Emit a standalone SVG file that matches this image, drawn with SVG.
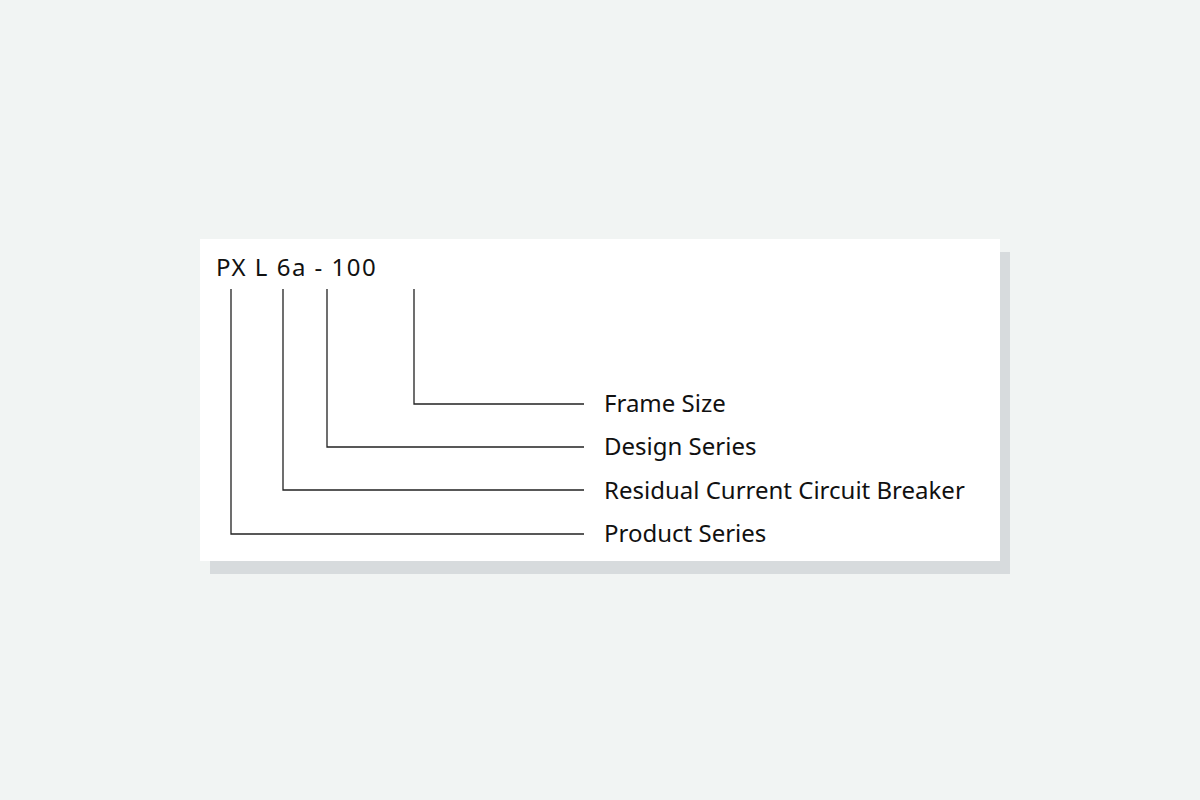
<svg xmlns="http://www.w3.org/2000/svg" width="1200" height="800" viewBox="0 0 1200 800">
<style>
text{font-family:"Noto Sans","Open Sans",sans-serif;fill:#111;font-size:24px}
.c{fill:none;stroke:#222;stroke-width:1.3}
</style>
<rect width="1200" height="800" fill="#f1f4f3"/>
<rect x="210" y="252" width="800" height="322" fill="#d7dbdd"/>
<rect x="200" y="239" width="800" height="322" fill="#fff"/>
<g id="code"><text x="216" y="276" font-size="26" letter-spacing="1.5" xml:space="preserve">PX L 6a - 100</text></g>
<g id="connectors">
<path class="c" d="M414 289V404H584"/>
<path class="c" d="M327 289V447H584"/>
<path class="c" d="M283 289V490H584"/>
<path class="c" d="M231 289V534H584"/>
</g>
<g id="frame"><text x="604" y="412">Frame Size</text></g>
<g id="design"><text x="604" y="455">Design Series</text></g>
<g id="rccb"><text x="604" y="499">Residual Current Circuit Breaker</text></g>
<g id="product"><text x="604" y="542">Product Series</text></g>
</svg>
